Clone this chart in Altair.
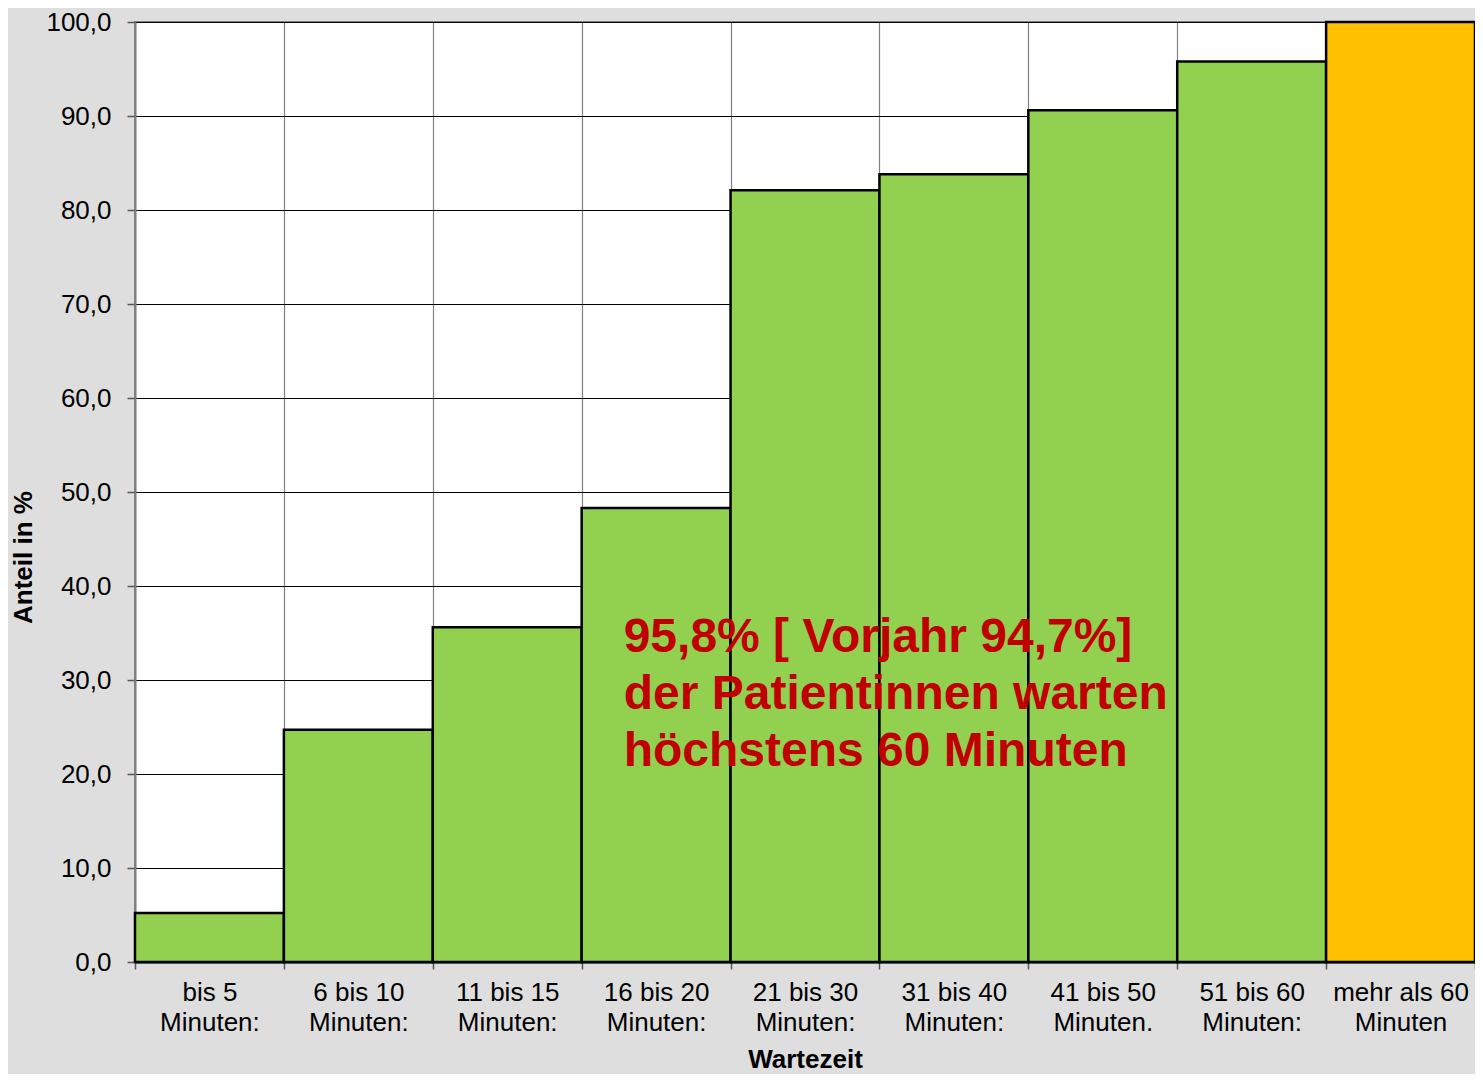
import altair as alt
import pandas as pd

# ---- data ----
categories = [
    "bis 5\nMinuten:", "6 bis 10\nMinuten:", "11 bis 15\nMinuten:",
    "16 bis 20\nMinuten:", "21 bis 30\nMinuten:", "31 bis 40\nMinuten:",
    "41 bis 50\nMinuten.", "51 bis 60\nMinuten:", "mehr als 60\nMinuten",
]
values = [5.2, 24.7, 35.6, 48.3, 82.1, 83.8, 90.6, 95.8, 100.0]
groups = ["bis60"] * 8 + ["mehr60"]
y_ticks = [0, 10, 20, 30, 40, 50, 60, 70, 80, 90, 100]

annot_lines = ["95,8% [ Vorjahr 94,7%]", "der Patientinnen warten", "höchstens 60 Minuten"]
annot_category = categories[3]
annot_value = 33.0

df = pd.DataFrame({"Wartezeit": categories, "Anteil": values, "Gruppe": groups})

x_enc = alt.X(
    "Wartezeit:N",
    sort=categories,
    scale=alt.Scale(paddingInner=0, paddingOuter=0),
    axis=alt.Axis(
        title="Wartezeit",
        labelExpr="split(datum.label, '\\n')",
        labelAngle=0,
        labelFontSize=26,
        labelLineHeight=30,
        labelColor="#000000",
        labelPadding=10,
        labelBaseline="top",
        tickBand="extent",
        tickSize=7,
        tickColor="#555555",
        tickWidth=1.5,
        domainColor="#000000",
        domainWidth=2,
        grid=True,
        gridColor="#808080",
        gridWidth=1.2,
        titleFontSize=26,
        titleFontWeight="bold",
        titleColor="#000000",
        titleBaseline="alphabetic",
        titleY=105,
    ),
)

bars = alt.Chart(df).mark_bar(stroke="#000000", strokeWidth=2.5).encode(
    x=x_enc,
    y=alt.Y(
        "Anteil:Q",
        scale=alt.Scale(domain=[0, 100], nice=False),
        axis=alt.Axis(
            title="Anteil in %",
            values=y_ticks,
            labelExpr="replace(format(datum.value, '.1f'), '.', ',')",
            labelFontSize=26,
            labelColor="#000000",
            labelPadding=16,
            tickSize=8,
            tickColor="#555555",
            tickWidth=1.5,
            domainColor="#808080",
            domainWidth=2,
            grid=True,
            gridColor="#000000",
            gridWidth=1,
            titleFontSize=26,
            titleFontWeight="bold",
            titleColor="#000000",
            titleAngle=270,
            titleBaseline="middle",
            titleAlign="center",
            titleX=-112,
            titleY=535,
        ),
    ),
    color=alt.Color(
        "Gruppe:N",
        scale=alt.Scale(domain=["bis60", "mehr60"], range=["#92d050", "#ffc000"]),
        legend=None,
    ),
)

annot = alt.Chart(pd.DataFrame({"t": [0]})).mark_text(
    text=annot_lines,
    align="left",
    baseline="alphabetic",
    fontSize=48,
    fontWeight="bold",
    color="#c00000",
    lineHeight=57,
    dx=42,
).encode(
    x=alt.X(datum=annot_category, bandPosition=0),
    y=alt.Y(datum=annot_value),
)

chart = (
    alt.layer(bars, annot)
    .properties(
        width=1340,
        height=940,
        background="#dedede",
        padding={"left": 127, "top": 14, "right": 0, "bottom": 112},
        autosize=alt.AutoSizeParams(type="none"),
    )
    .configure(font="Liberation Sans")
    .configure_view(stroke="#808080", strokeWidth=2, fill="#ffffff")
)

chart.save("out.html", embed_options={"renderer": "svg", "actions": False})
